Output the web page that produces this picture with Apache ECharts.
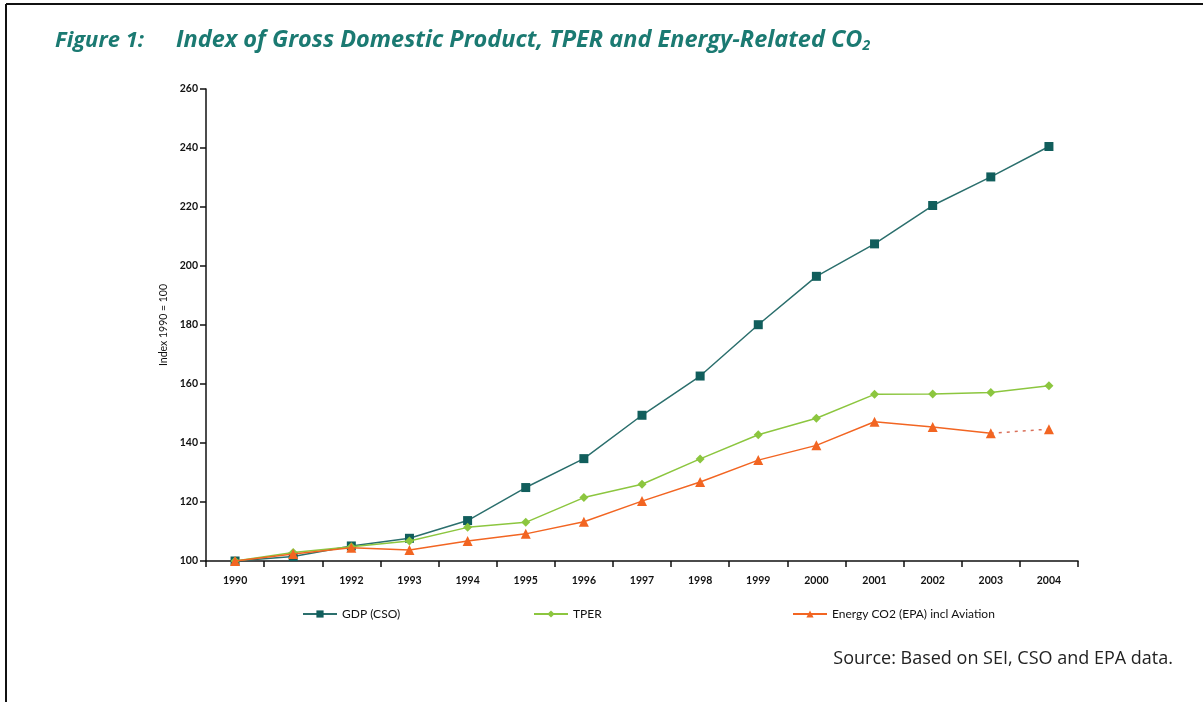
<!DOCTYPE html>
<html>
<head>
<meta charset="utf-8">
<script src="https://cdn.jsdelivr.net/npm/echarts@6/dist/echarts.min.js"></script>
<style>
html,body{margin:0;padding:0;background:#fff;}
#c{width:1203px;height:702px;}
</style>
</head>
<body>
<div id="c"></div>
<script>
const years = ['1990','1991','1992','1993','1994','1995','1996','1997','1998','1999','2000','2001','2002','2003','2004'];
const gdp  = [100, 101.5, 105.1, 107.7, 113.7, 124.9, 134.7, 149.4, 162.7, 180.1, 196.5, 207.5, 220.5, 230.2, 240.5];
const tper = [100, 102.9, 104.8, 106.8, 111.4, 113.1, 121.5, 126.0, 134.6, 142.8, 148.4, 156.5, 156.6, 157.1, 159.4];
const co2  = [100, 102.4, 104.5, 103.7, 106.8, 109.2, 113.3, 120.3, 126.8, 134.2, 139.2, 147.2, 145.4, 143.3, null];
const co2Est = [null, null, null, null, null, null, null, null, null, null, null, null, null, 143.3, 144.7];
const yTicks = [100, 120, 140, 160, 180, 200, 220, 240, 260];

const chart = echarts.init(document.getElementById('c'), null, {renderer:'canvas'});
const F = 'Lato, "Open Sans", sans-serif';
const FO = '"Open Sans", Lato, sans-serif';
const names = ['GDP (CSO)', 'TPER', 'Energy CO2 (EPA) incl Aviation'];
const colors = ['#115e5c', '#8cc63f', '#f26522'];
const legText = {fontSize:12, fontFamily:F, color:'#111'};

const option = {
  backgroundColor: '#fff',
  animation: false,
  graphic: [
    {type:'line', shape:{x1:6,y1:4,x2:1203,y2:4}, style:{stroke:'#111', lineWidth:2}},
    {type:'line', shape:{x1:6,y1:4,x2:6,y2:702}, style:{stroke:'#111', lineWidth:2}},
    {type:'text', left:55, top:30, style:{text:'Figure 1:', font:'italic bold 22px '+FO, fill:'#1b7a72'}},
    {type:'text', left:176, top:29, style:{
      text:'{m|Index of Gross Domestic Product, TPER and Energy-Related CO}{s|2}',
      rich:{
        m:{font:'italic bold 23.5px '+FO, fill:'#1b7a72'},
        s:{font:'italic bold 14px '+FO, fill:'#1b7a72', padding:[11,0,0,0]}
      }
    }},
    {type:'text', right:30, top:650, style:{text:'Source: Based on SEI, CSO and EPA data.', font:'18px '+FO, fill:'#222'}}
  ],
  grid: {left:206, right:125, top:89, bottom:141, containLabel:false},
  legend: [
    {data:[names[0]], left:297, top:603, itemWidth:34, itemHeight:9, textStyle:legText},
    {data:[names[1]], left:528, top:603, itemWidth:34, itemHeight:9, textStyle:legText},
    {data:[names[2]], left:787, top:603, itemWidth:34, itemHeight:9, textStyle:legText}
  ],
  xAxis: {
    type:'category', data:years, boundaryGap:true,
    axisLine:{lineStyle:{color:'#111', width:1.5}},
    axisTick:{show:true, alignWithLabel:false, length:6, lineStyle:{color:'#111', width:1.5}},
    axisLabel:{color:'#111', fontSize:10.5, fontFamily:F, fontWeight:'bold', margin:14},
    splitLine:{show:false}
  },
  yAxis: {
    type:'value', min:100, max:260, interval:20,
    name:'Index 1990 = 100', nameLocation:'middle', nameGap:36,
    nameTextStyle:{fontSize:10.5, fontFamily:F, color:'#111'},
    axisLine:{show:true, lineStyle:{color:'#111', width:1.5}},
    axisTick:{show:true, length:6, lineStyle:{color:'#111', width:1.5}},
    axisLabel:{color:'#111', fontSize:10.5, fontFamily:F, fontWeight:'bold', margin:8,
      formatter:v => yTicks.includes(v) ? String(v) : ''},
    splitLine:{show:false}
  },
  series: [
    {name:names[0], type:'line', data:gdp, symbol:'rect', symbolSize:9,
      itemStyle:{color:colors[0]}, lineStyle:{color:'#2b6f6d', width:1.5}, z:3},
    {name:names[1], type:'line', data:tper, symbol:'diamond', symbolSize:9,
      itemStyle:{color:colors[1]}, lineStyle:{color:colors[1], width:1.5}, z:4},
    {name:names[2], type:'line', data:co2, symbol:'triangle', symbolSize:10,
      itemStyle:{color:colors[2]}, lineStyle:{color:colors[2], width:1.5}, z:5},
    {name:'co2est', type:'line', data:co2Est.map((v,i)=> i===13 ? {value:v, symbol:'none'} : v),
      symbol:'triangle', symbolSize:10,
      itemStyle:{color:colors[2]}, lineStyle:{color:'#d9705a', width:1.5, type:[3,5]}, z:5}
  ]
};
chart.setOption(option);
</script>
</body>
</html>
